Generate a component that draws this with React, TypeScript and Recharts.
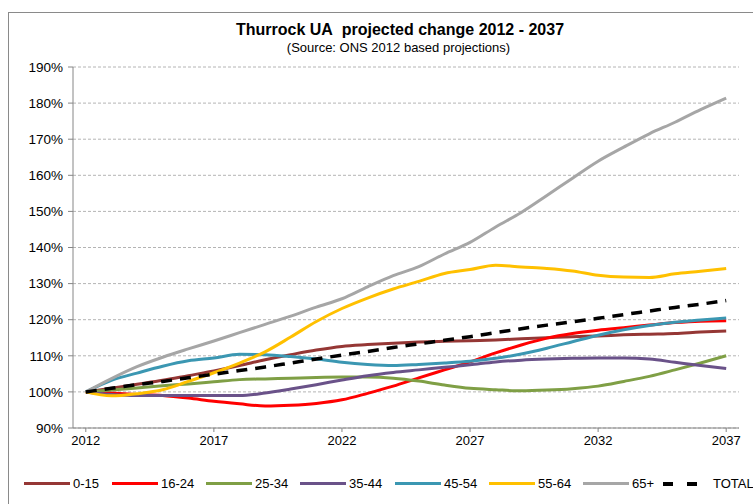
import { LineChart, Line, XAxis, YAxis, CartesianGrid } from 'recharts';

const years = [
  2012, 2013, 2014, 2015, 2016, 2017, 2018, 2019, 2020, 2021, 2022, 2023, 2024,
  2025, 2026, 2027, 2028, 2029, 2030, 2031, 2032, 2033, 2034, 2035, 2036, 2037,
];

const age0to15 = [100, 101, 102.1, 103.2, 104.5, 105.8, 107.3, 108.9, 110.3, 111.6, 112.6, 113.1, 113.5, 113.8, 114, 114.2, 114.4, 114.7, 115, 115.3, 115.5, 115.8, 116, 116.2, 116.6, 116.9];
const age16to24 = [100, 99.7, 99.3, 99.0, 98.3, 97.4, 96.7, 96.1, 96.3, 96.8, 97.8, 99.6, 101.6, 103.9, 106.1, 108.3, 110.8, 113.0, 114.9, 116.2, 117.1, 117.8, 118.5, 119.2, 119.6, 119.7];
const age25to34 = [100, 100.5, 101.1, 101.7, 102.2, 102.8, 103.4, 103.6, 103.8, 104, 104.1, 104.1, 103.8, 103, 101.9, 101, 100.6, 100.3, 100.5, 100.9, 101.6, 102.9, 104.3, 106.1, 108, 110];
const age35to44 = [100, 99.3, 99, 99, 99, 99, 99, 99.7, 100.8, 102, 103.3, 104.5, 105.4, 106.1, 106.8, 107.5, 108.3, 108.8, 109.1, 109.3, 109.4, 109.4, 109.1, 108.2, 107.3, 106.5];
const age45to54 = [100, 103.2, 105.2, 107.1, 108.6, 109.4, 110.4, 110.3, 109.8, 109.1, 108.2, 107.6, 107.3, 107.6, 108, 108.5, 109.3, 110.5, 112.1, 113.9, 115.7, 117.2, 118.4, 119.3, 119.9, 120.5];
const age55to64 = [100, 98.9, 99.5, 100.6, 102.9, 105.3, 108, 111.1, 115.2, 119.5, 123.1, 126.0, 128.5, 130.6, 132.8, 133.9, 135.1, 134.6, 134.2, 133.5, 132.3, 131.8, 131.7, 132.7, 133.4, 134.2];
const age65plus = [100, 103.7, 107.0, 109.6, 111.9, 114.1, 116.4, 118.7, 121.0, 123.5, 125.8, 129.1, 132.2, 134.7, 138.2, 141.4, 145.7, 149.7, 154.4, 159.2, 163.9, 167.8, 171.5, 174.7, 178.2, 181.4];
const total = [100, 101.0, 102.0, 102.9, 103.9, 104.9, 105.9, 106.9, 108.0, 109.1, 110.2, 111.2, 112.3, 113.3, 114.3, 115.3, 116.4, 117.5, 118.5, 119.4, 120.4, 121.4, 122.4, 123.4, 124.3, 125.3];

const yTicks = [90, 100, 110, 120, 130, 140, 150, 160, 170, 180, 190];
const xLabels = [2012, 2017, 2022, 2027, 2032, 2037];

const series = [
  { key: 'a0', name: '0-15', values: age0to15, color: '#953735' },
  { key: 'a16', name: '16-24', values: age16to24, color: '#FF0000' },
  { key: 'a25', name: '25-34', values: age25to34, color: '#7F9F45' },
  { key: 'a35', name: '35-44', values: age35to44, color: '#6A5289' },
  { key: 'a45', name: '45-54', values: age45to54, color: '#3B97B2' },
  { key: 'a55', name: '55-64', values: age55to64, color: '#FFC000' },
  { key: 'a65', name: '65+', values: age65plus, color: '#A6A6A6' },
];

const data = years.map((year, i) => {
  const row: Record<string, number> = { year, total: total[i] };
  series.forEach((s) => (row[s.key] = s.values[i]));
  return row;
});

const font = '"Liberation Sans", Arial, sans-serif';
const legendLeft = [24, 112, 206, 300, 395, 489, 583];

export default function App() {
  return (
    <div style={{ position: 'relative', width: 753, height: 504, fontFamily: font }}>
      <style>{'body{margin:0;overflow:hidden;}'}</style>
      <div
        style={{
          position: 'absolute', left: 8, top: 12, width: 745, height: 492,
          borderLeft: '1px solid #8a8a8a', borderTop: '1px solid #8a8a8a', boxSizing: 'border-box',
        }}
      />
      <div style={{ position: 'absolute', left: 0, width: 800, top: 21, textAlign: 'center', fontSize: 16, fontWeight: 'bold' }}>
        Thurrock UA&nbsp; projected change 2012 - 2037
      </div>
      <div style={{ position: 'absolute', left: 0, width: 797, top: 40, textAlign: 'center', fontSize: 13 }}>
        (Source: ONS 2012 based projections)
      </div>
      <div style={{ position: 'absolute', left: 0, top: 0 }}>
        <LineChart width={753} height={504} data={data} margin={{ top: 67, right: 14, left: 13, bottom: 46 }}>
          <CartesianGrid vertical={false} stroke="#b4b4b4" strokeDasharray="3 2" />
          <XAxis
            dataKey="year"
            type="number"
            domain={[2011.5, 2037.5]}
            ticks={xLabels}
            tick={{ fontSize: 13, fill: '#000', fontFamily: font }}
            tickLine={{ stroke: '#868686' }}
            tickSize={4}
            tickMargin={4}
            axisLine={{ stroke: '#868686' }}
            height={30}
          />
          <YAxis
            type="number"
            domain={[90, 190]}
            ticks={yTicks}
            tickFormatter={(v: number) => `${v}%`}
            tick={{ fontSize: 13.5, fill: '#000', fontFamily: font }}
            tickLine={{ stroke: '#868686' }}
            tickSize={5}
            tickMargin={5}
            axisLine={{ stroke: '#868686' }}
            width={60}
          />
          {series.map((s) => (
            <Line
              key={s.key}
              dataKey={s.key}
              name={s.name}
              type="monotone"
              stroke={s.color}
              strokeWidth={3}
              dot={false}
              isAnimationActive={false}
            />
          ))}
          <Line
            dataKey="total"
            name="TOTAL"
            type="monotone"
            stroke="#000"
            strokeWidth={3.5}
            strokeDasharray="11 8"
            dot={false}
            isAnimationActive={false}
          />
        </LineChart>
      </div>
      {series.map((s, i) => (
        <div key={s.key} style={{ position: 'absolute', left: legendLeft[i], top: 476, display: 'flex', alignItems: 'center', fontSize: 13 }}>
          <span style={{ display: 'inline-block', width: 46, height: 3, background: s.color, marginRight: 3 }} />
          {s.name}
        </div>
      ))}
      <div style={{ position: 'absolute', left: 663, top: 476, display: 'flex', alignItems: 'center', fontSize: 13 }}>
        <span style={{ display: 'inline-block', width: 10, height: 4, background: '#000', marginRight: 14 }} />
        <span style={{ display: 'inline-block', width: 10, height: 4, background: '#000', marginRight: 16 }} />
        TOTAL
      </div>
    </div>
  );
}
